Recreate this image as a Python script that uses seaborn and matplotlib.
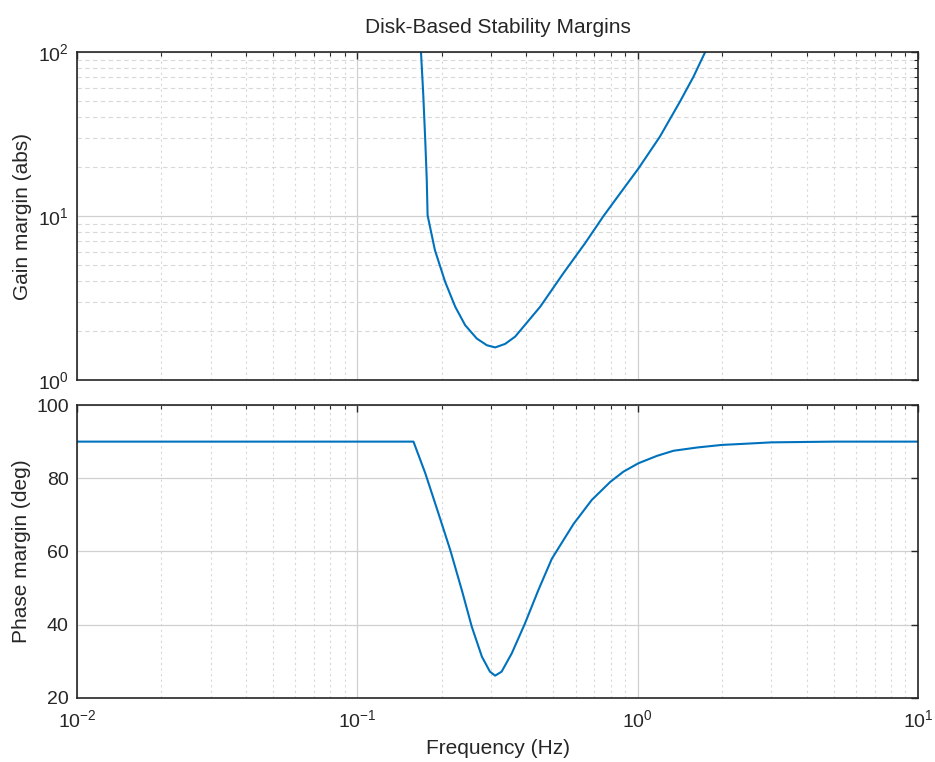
import numpy as np
import pandas as pd
import matplotlib
matplotlib.use("Agg")
import matplotlib.pyplot as plt
import matplotlib.ticker as mticker
import seaborn as sns

# Values
gain_freq = [0.1686, 0.1717, 0.1746, 0.1768, 0.178, 0.189, 0.2056, 0.2233, 0.2423,
             0.2666, 0.2895, 0.310, 0.3365, 0.3655, 0.449, 0.543, 0.649, 0.755,
             0.853, 1.006, 1.20, 1.416, 1.58, 1.74]
gain_abs = [100, 56, 29, 16.6, 10.1, 6.2, 3.97, 2.80, 2.16,
            1.79, 1.63, 1.58, 1.66, 1.84, 2.80, 4.48, 6.83, 10.0,
            13.3, 19.5, 30.5, 50, 70.6, 100]

phase_freq = [0.01, 0.1585, 0.1746, 0.1946, 0.2144, 0.2357, 0.2558, 0.278, 0.297,
              0.310, 0.327, 0.3554, 0.3963, 0.4423, 0.4937, 0.590, 0.686, 0.798,
              0.889, 1.006, 1.17, 1.34, 1.63, 1.995, 2.32, 3.0, 5.0, 10.0]
phase_deg = [90, 90, 81.4, 70.4, 60.4, 49.5, 39.5, 31.3, 27.2,
             26.1, 27.2, 32.2, 40.4, 49.5, 58.0, 67.5, 74.1, 79.0,
             81.8, 84.1, 86.1, 87.5, 88.4, 89.1, 89.35, 89.8, 90, 90]

gain_df = pd.DataFrame({"freq": gain_freq, "gain": gain_abs})
phase_df = pd.DataFrame({"freq": phase_freq, "phase": phase_deg})

sns.set_theme(style="white")
plt.rcParams['font.family'] = ['Liberation Sans', 'DejaVu Sans']
plt.rcParams['mathtext.fontset'] = 'custom'
plt.rcParams['mathtext.rm'] = 'Liberation Sans'

line_color = '#0072BD'
text_color = '#262626'

fig = plt.figure(figsize=(9.35, 7.62), dpi=100)
ax1 = fig.add_axes([0.0824, 0.5013, 0.8995, 0.4304])
ax2 = fig.add_axes([0.0824, 0.0840, 0.8995, 0.3845], sharex=ax1)

sns.lineplot(data=gain_df, x="freq", y="gain", ax=ax1, sort=False,
             color=line_color, linewidth=1.5)
sns.lineplot(data=phase_df, x="freq", y="phase", ax=ax2, sort=False,
             color=line_color, linewidth=1.5)

ax1.set_xscale('log')
ax1.set_yscale('log')
ax1.set_xlim(0.01, 10)
ax1.set_ylim(1, 100)
ax2.set_ylim(20, 100)
ax2.yaxis.set_major_locator(mticker.MultipleLocator(20))

for ax in (ax1, ax2):
    ax.xaxis.set_major_locator(mticker.LogLocator(base=10))
    ax.xaxis.set_minor_locator(mticker.LogLocator(base=10, subs=np.arange(2, 10)))
    ax.tick_params(which='both', direction='in', top=True, right=True,
                   labelsize=14, colors=text_color)
    ax.tick_params(which='major', length=5, width=1)
    ax.tick_params(which='minor', length=3, width=0.8)
    ax.tick_params(axis='x', which='major', pad=8)
    ax.tick_params(axis='y', which='major', pad=6)
    for s in ax.spines.values():
        s.set_color(text_color)
        s.set_linewidth(1.2)
    ax.grid(which='major', color='#d0d0d0', linestyle='-', linewidth=0.9)
    ax.grid(which='minor', axis='x', color='#d8d8d8', linestyle=(0, (2, 3)), linewidth=0.8)
    ax.set_axisbelow(True)

ax1.yaxis.set_minor_locator(mticker.LogLocator(base=10, subs=np.arange(2, 10)))
ax1.yaxis.set_minor_formatter(mticker.NullFormatter())
ax1.grid(which='minor', axis='y', color='#d8d8d8', linestyle=(0, (4, 3)), linewidth=0.8)
ax1.tick_params(axis='x', labelbottom=False)

ax1.set_xlabel('')
ax1.set_ylabel('Gain margin (abs)', fontsize=15, color=text_color)
ax2.set_ylabel('Phase margin (deg)', fontsize=15, color=text_color)
ax2.set_xlabel('Frequency (Hz)', fontsize=15, color=text_color, labelpad=6)
ax1.set_title('Disk-Based Stability Margins', fontsize=15, color=text_color, pad=14)

fig.savefig('out.png', dpi=100)
